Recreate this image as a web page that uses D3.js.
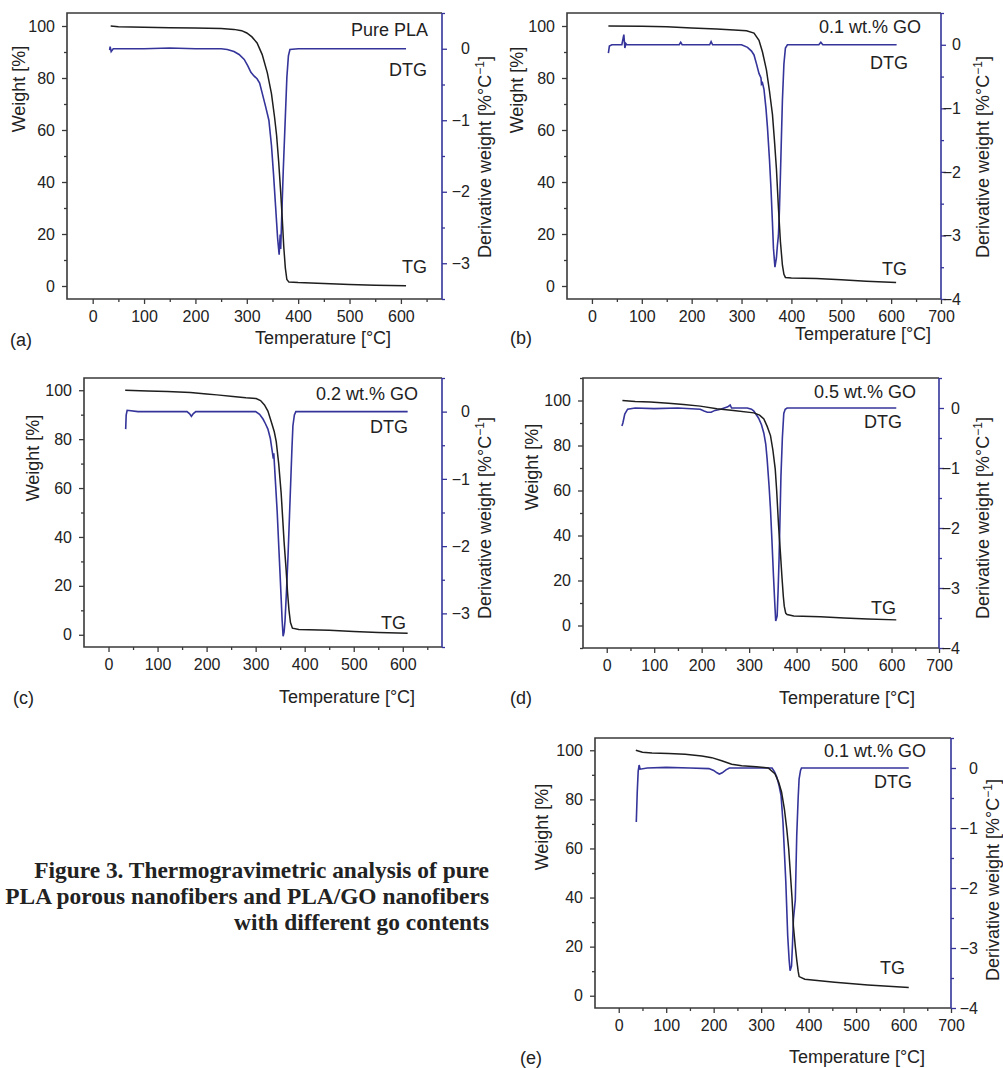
<!DOCTYPE html>
<html>
<head>
<meta charset="utf-8">
<script src="https://cdn.jsdelivr.net/npm/d3@7"></script>
<style>
  body { margin: 0; background: #fff; }
  svg text { font-family: "Liberation Sans", Arial, sans-serif; fill: #222; }
</style>
</head>
<body>
<svg width="1003" height="1068"></svg>
<script>
// ---- data: [temperature °C, value] ----
const tgA = [[35,100],[50,99.7],[100,99.5],[150,99.3],[200,99.2],[250,99],[275,98.7],[290,98.2],[300,97.3],[310,95.8],[320,93.5],[330,89],[340,82],[348,74],[354,65],[358,58],[362,48],[366,36],[369,26],[372,15],[375,7],[378,2.5],[382,1.5],[400,1.3],[450,1.0],[500,0.6],[550,0.3],[610,0.1]]
const dtgA = [[33,-0.02],[34,0.03],[36,-0.04],[40,0],[100,0],[150,0.01],[200,0],[250,0],[262,-0.01],[275,-0.04],[285,-0.08],[295,-0.15],[302,-0.24],[308,-0.33],[314,-0.38],[320,-0.42],[325,-0.48],[330,-0.62],[337,-0.82],[343,-1.0],[348,-1.35],[352,-1.75],[356,-2.2],[360,-2.65],[363,-2.88],[365,-2.6],[366,-2.8],[368,-2.35],[371,-1.7],[375,-0.96],[378,-0.4],[381,-0.1],[384,-0.01],[400,0],[500,0],[610,0]]

const tgB = [[33,100],[100,99.9],[150,99.7],[200,99.2],[250,98.8],[285,98.5],[310,98.2],[325,97.3],[335,94.5],[342,90],[350,83],[356,75],[362,66],[366,56],[370,45],[374,30],[378,17],[382,8],[385,4.5],[388,3.3],[400,3.1],[450,2.9],[500,2.4],[550,1.8],[610,1.3]]
const dtgB = [[33,-0.13],[35,-0.02],[40,0],[60,0],[62,0.08],[64,0.16],[66,-0.05],[68,0.02],[70,0],[175,0],[178,0.04],[181,0],[236,0],[239,0.05],[242,0],[300,0],[312,-0.04],[320,-0.1],[325,-0.16],[330,-0.3],[335,-0.45],[339,-0.52],[340,-0.62],[342,-0.6],[345,-0.7],[349,-1.0],[352,-1.3],[356,-1.8],[359,-2.25],[362,-2.8],[364,-3.2],[367,-3.5],[370,-3.35],[372,-3.15],[374,-3.0],[376,-2.6],[378,-2.05],[380,-1.45],[382,-0.87],[385,-0.3],[388,-0.05],[392,0],[455,0],[459,0.04],[463,0],[611,0]]

const tgC = [[34,100],[80,99.7],[120,99.5],[167,99.1],[200,98.5],[221,98.1],[254,97.4],[280,96.9],[301,96.6],[310,95.8],[318,94],[325,91.5],[332,87],[338,83],[342,79],[347,70],[352,58],[355,48],[358,38],[362,27],[365,17.5],[368,10],[371,5],[375,2.7],[388,2.2],[450,1.8],[500,1.3],[550,0.9],[610,0.6]]
const dtgC = [[35,-0.26],[36,-0.05],[38,0.02],[60,0],[160,0],[165,-0.03],[169,-0.07],[173,-0.03],[178,0],[300,0],[308,-0.04],[315,-0.11],[320,-0.18],[325,-0.26],[330,-0.4],[333,-0.55],[334,-0.6],[336,-0.7],[337,-0.62],[340,-1.0],[344,-1.5],[347,-1.98],[350,-2.45],[352,-2.77],[354,-3.1],[356,-3.34],[358,-3.28],[360,-3.1],[363,-2.65],[366,-2.15],[369,-1.55],[372,-0.95],[374,-0.55],[376,-0.21],[379,-0.05],[382,0],[610,0]]

const tgD = [[33,100],[60,99.6],[92,99.3],[130,98.8],[162,98.2],[197,97.5],[232,96.3],[267,95.6],[310,94.5],[322,93.5],[331,91.8],[338,88.5],[345,84.4],[350,78],[355,69.5],[358,60],[362,44.3],[366,32],[369,22],[372,13],[374,8.6],[377,5.5],[380,4.9],[394,4.2],[450,3.9],[500,3.3],[550,2.9],[610,2.5]]
const dtgD = [[32,-0.3],[34,-0.25],[38,-0.1],[44,-0.02],[60,0],[100,-0.01],[150,0],[197,-0.02],[205,-0.05],[212,-0.07],[220,-0.07],[228,-0.04],[240,-0.02],[255,0.02],[260,0.05],[263,0],[296,0],[305,-0.02],[310,-0.05],[320,-0.17],[326,-0.28],[331,-0.42],[335,-0.6],[338,-0.86],[342,-1.3],[345,-1.69],[348,-2.2],[351,-2.75],[354,-3.25],[356,-3.55],[359,-3.47],[361,-3.05],[363,-2.53],[365,-1.85],[367,-1.14],[370,-0.5],[373,-0.09],[376,-0.02],[380,0],[610,0]]

const tgE = [[36,100],[50,99.2],[70,98.9],[105,98.7],[140,98.4],[175,97.7],[196,97],[217,95.7],[238,94.3],[259,93.7],[290,93.3],[315,92.8],[329,90.5],[337,87],[343,83],[349,76],[354,68],[358,60],[361,51.5],[365,40],[368,28.3],[372,20],[375,14.6],[378,10],[380,7.8],[392,6.7],[455,5.5],[525,4.4],[611,3.4]]
const dtgE = [[37,-0.9],[39,-0.4],[41,-0.05],[43,0.05],[45,-0.02],[60,0],[100,0.01],[150,0],[190,-0.01],[200,-0.04],[207,-0.08],[212,-0.1],[218,-0.08],[226,-0.03],[233,0],[323,0],[328,-0.06],[333,-0.15],[338,-0.3],[342,-0.46],[346,-0.9],[349,-1.4],[352,-1.9],[356,-2.8],[359,-3.2],[361,-3.38],[364,-3.3],[366,-2.95],[368,-2.52],[372,-2.2],[375,-1.13],[378,-0.5],[380,-0.18],[383,-0.04],[385,0],[611,0]]

// ---- tick values ----
const tempTicks = [0, 100, 200, 300, 400, 500, 600, 700]
const tempMinor = [50, 150, 250, 350, 450, 550, 650]
const weightTicks = [0, 20, 40, 60, 80, 100]
const weightMinor = [-10, 10, 30, 50, 70, 90, 110]
const derivTicks = [-4, -3, -2, -1, 0]
const derivMinor = [-3.5, -2.5, -1.5, -0.5, 0.5]

const sampleLabels = ['Pure PLA', '0.1 wt.% GO', '0.2 wt.% GO', '0.5 wt.% GO', '0.1 wt.% GO']
const captionLines = ['Figure 3. Thermogravimetric analysis of pure',
  'PLA porous nanofibers and PLA/GO nanofibers',
  'with different go contents']

// ---- layout (pixels) ----
const panels = [
  { tag: '(a)', tg: tgA, dtg: dtgA, label: sampleLabels[0], frame: [67, 13, 442, 299], xMax: 680, wDom: [-5, 105], dDom: [-3.5, 0.5],
    rOff: 28, tagPos: [10, 340], xTitle: [323, 338], yTitle: [19, 89], dTitle: [485, 157],
    ann: [[428, 30], [427, 70], [427, 267]] },
  { tag: '(b)', tg: tgB, dtg: dtgB, label: sampleLabels[1], frame: [567, 13, 941, 299], xMax: 700, wDom: [-5, 105], dDom: [-4, 0.5],
    rOff: 20, tagPos: [510, 338], xTitle: [863, 334], yTitle: [517, 90], dTitle: [983, 157],
    ann: [[921, 27], [908, 63], [907, 269]] },
  { tag: '(c)', tg: tgC, dtg: dtgC, label: sampleLabels[2], frame: [84, 378, 442, 647], xMax: 680, wDom: [-5, 105], dDom: [-3.5, 0.5],
    rOff: 28, tagPos: [13, 698], xTitle: [347, 697], yTitle: [33, 458], dTitle: [485, 518],
    ann: [[418, 394], [408, 427], [406, 623]] },
  { tag: '(d)', tg: tgD, dtg: dtgD, label: sampleLabels[3], frame: [583, 378, 939, 648], xMax: 700, wDom: [-10, 110], dDom: [-4, 0.5],
    rOff: 21, tagPos: [510, 698], xTitle: [847, 698], yTitle: [532, 467], dTitle: [983, 518],
    ann: [[916, 392], [902, 422], [896, 608]] },
  { tag: '(e)', tg: tgE, dtg: dtgE, label: sampleLabels[4], frame: [595, 738, 951, 1008], xMax: 700, wDom: [-5, 105], dDom: [-4, 0.5],
    rOff: 27, tagPos: [520, 1058], xTitle: [857, 1057], yTitle: [542, 827], dTitle: [993, 880],
    ann: [[926, 751], [912, 782], [905, 968]] }
]

const BLUE = '#34349a'
const BLACK = '#1e1e1e'
const AXIS = '#3a3a3a'

const svg = d3.select('svg')

function styleAxis(a, color) {
  a.select('.domain').remove()
  a.attr('font-size', null).attr('font-family', null)
  a.selectAll('line').attr('stroke', color).attr('stroke-width', 1.3)
  a.selectAll('text').style('font-size', '16px').attr('fill', '#222')
  return a
}

function drawPanel(p) {
  const [x0, y0, x1, y1] = p.frame
  const x = d3.scaleLinear().domain([-50, p.xMax]).range([x0, x1])
  const yW = d3.scaleLinear().domain(p.wDom).range([y1, y0])
  const yD = d3.scaleLinear().domain(p.dDom).range([y1, y0])
  const g = svg.append('g')

  const inX = v => v >= -50 && v <= p.xMax
  const inW = v => v >= p.wDom[0] && v <= p.wDom[1]
  const inD = v => v >= p.dDom[0] && v <= p.dDom[1]
  const intFmt = d3.format('d')

  // bottom axis
  styleAxis(g.append('g').attr('transform', `translate(0,${y1})`)
    .call(d3.axisBottom(x).tickValues(tempTicks.filter(inX)).tickFormat(intFmt).tickSize(5).tickPadding(7).tickSizeOuter(0)), AXIS)
  styleAxis(g.append('g').attr('transform', `translate(0,${y1})`)
    .call(d3.axisBottom(x).tickValues(tempMinor.filter(inX)).tickSize(3).tickFormat('').tickSizeOuter(0)), AXIS)

  // left axis
  styleAxis(g.append('g').attr('transform', `translate(${x0},0)`)
    .call(d3.axisLeft(yW).tickValues(weightTicks.filter(inW)).tickFormat(intFmt).tickSize(5).tickPadding(7).tickSizeOuter(0)), AXIS)
  styleAxis(g.append('g').attr('transform', `translate(${x0},0)`)
    .call(d3.axisLeft(yW).tickValues(weightMinor.filter(inW)).tickSize(3).tickFormat('').tickSizeOuter(0)), AXIS)

  // right axis
  const ra = styleAxis(g.append('g').attr('transform', `translate(${x1},0)`)
    .call(d3.axisRight(yD).tickValues(derivTicks.filter(inD)).tickFormat(intFmt).tickSize(5).tickSizeOuter(0)), BLUE)
  ra.selectAll('text').attr('text-anchor', 'end').attr('x', p.rOff)
  styleAxis(g.append('g').attr('transform', `translate(${x1},0)`)
    .call(d3.axisRight(yD).tickValues(derivMinor.filter(inD)).tickSize(3).tickFormat('').tickSizeOuter(0)), BLUE)

  // frame
  g.append('path').attr('d', `M${x1},${y0}H${x0}V${y1}H${x1}`)
    .attr('fill', 'none').attr('stroke', AXIS).attr('stroke-width', 1.6)
  g.append('line').attr('x1', x1).attr('x2', x1).attr('y1', y0).attr('y2', y1)
    .attr('stroke', BLUE).attr('stroke-width', 1.6)

  // curves
  const lineD = d3.line().x(d => x(d[0])).y(d => yD(d[1]))
  const lineW = d3.line().x(d => x(d[0])).y(d => yW(d[1]))
  g.append('path').attr('d', lineD(p.dtg)).attr('fill', 'none').attr('stroke', BLUE).attr('stroke-width', 1.6)
  g.append('path').attr('d', lineW(p.tg)).attr('fill', 'none').attr('stroke', BLACK).attr('stroke-width', 1.5)

  // annotations
  const annText = [p.label, 'DTG', 'TG']
  p.ann.forEach((a, i) => {
    g.append('text').attr('x', a[0]).attr('y', a[1]).attr('dy', '0.35em')
      .attr('text-anchor', 'end').style('font-size', '18px').text(annText[i])
  })

  // titles
  g.append('text').attr('x', p.tagPos[0]).attr('y', p.tagPos[1]).attr('dy', '0.35em')
    .style('font-size', '18px').text(p.tag)
  g.append('text').attr('x', p.xTitle[0]).attr('y', p.xTitle[1]).attr('dy', '0.35em')
    .attr('text-anchor', 'middle').style('font-size', '18px').text('Temperature [°C]')
  g.append('text').attr('transform', `translate(${p.yTitle[0]},${p.yTitle[1]}) rotate(-90)`)
    .attr('dy', '0.35em').attr('text-anchor', 'middle').style('font-size', '18px').text('Weight [%]')
  const dt = g.append('text').attr('transform', `translate(${p.dTitle[0]},${p.dTitle[1]}) rotate(-90)`)
    .attr('dy', '0.35em').attr('text-anchor', 'middle').style('font-size', '18px')
  dt.append('tspan').text('Derivative weight [%°C')
  dt.append('tspan').attr('dy', -7).style('font-size', '12px').text('−1')
  dt.append('tspan').attr('dy', 7).text(']')
}

panels.forEach(drawPanel)

// caption
const cap = svg.append('g')
captionLines.forEach((t, i) => {
  cap.append('text').attr('x', 489).attr('y', 870 + i * 26).attr('dy', '0.35em')
    .attr('text-anchor', 'end')
    .style('font-family', '"Liberation Serif", "Times New Roman", serif')
    .style('font-weight', 'bold').style('font-size', '23.4px').attr('fill', '#000')
    .text(t)
})
</script>
</body>
</html>
